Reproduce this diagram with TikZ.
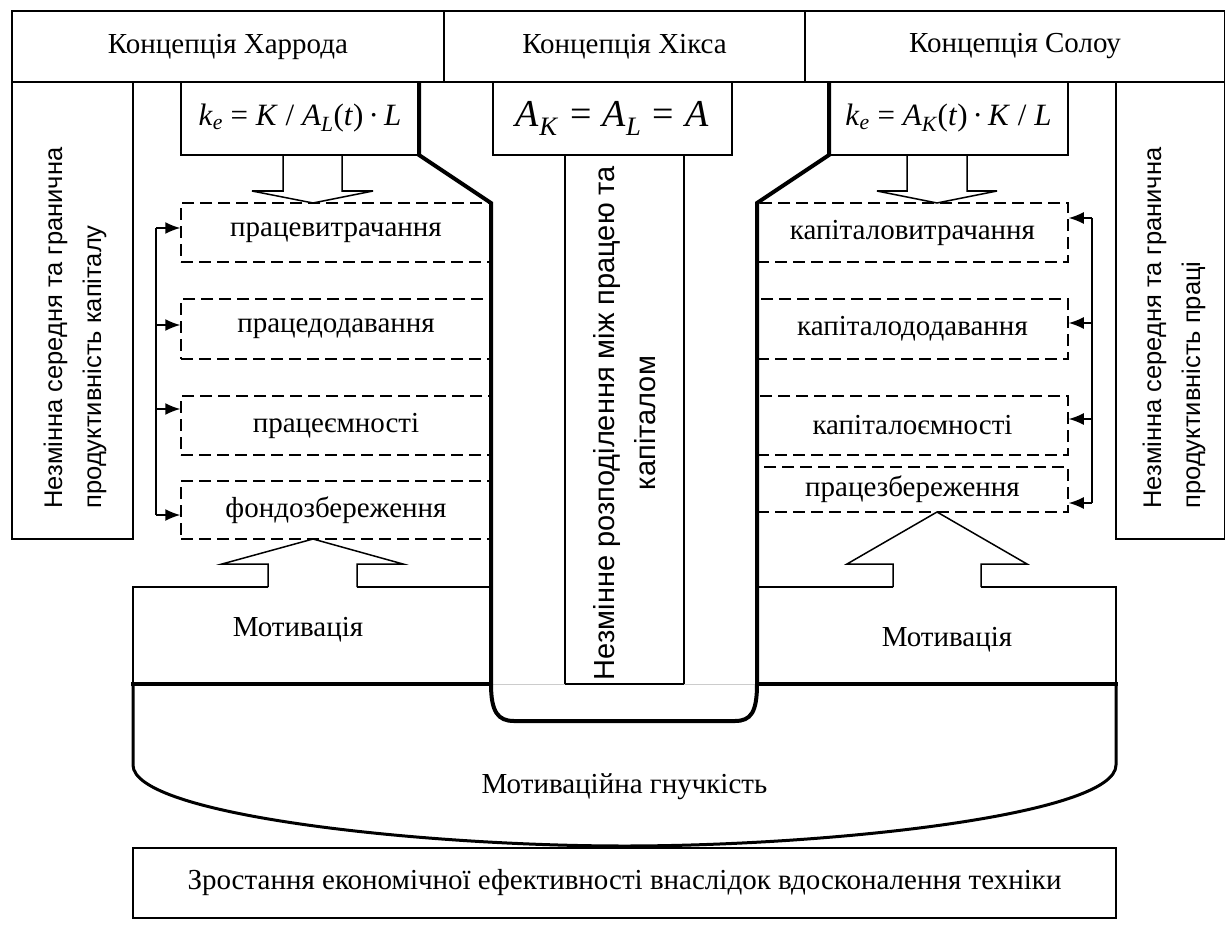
\documentclass[tikz,border=0pt]{standalone}
\usepackage{fontspec}
\setmainfont{Liberation Serif}
\newfontfamily\arialf{Liberation Sans}
\usetikzlibrary{arrows.meta}
\newcommand\tnr{\fontsize{29}{34}\selectfont}
\tikzset{
  lw/.style={line width=1.5pt},
  thickln/.style={line width=4pt},
  box/.style={draw, rectangle, line width=1.5pt, inner sep=0pt, font=\tnr},
  dbox/.style={draw, rectangle, line width=1.5pt, dash pattern=on 12pt off 6pt, inner sep=0pt, font=\tnr},
  lbl/.style={inner sep=0pt, font=\tnr},
  vtext/.style={rotate=90, inner sep=0pt, font=\arialf\fontsize{25.5}{39}\selectfont},
  arr/.style={line width=1.5pt, -{Latex[length=15pt,width=12pt]}},
}
\begin{document}
\begin{tikzpicture}[x=1pt,y=-1pt]
\useasboundingbox (0,0) rectangle (1225,944);
% header
\node[box, minimum width=432pt, minimum height=71pt] (h1) at (228,46.5) {Концепція Харрода};
\node[box, minimum width=361pt, minimum height=71pt] (h2) at (624.5,46.5) {Концепція Хікса};
\node[box, minimum width=420pt, minimum height=71pt] (h3) at (1015,46.5) {Концепція Солоу};
% side boxes
\node[box, minimum width=121pt, minimum height=457pt] (lbox) at (72.5,310.5) {};
\node[box, minimum width=109pt, minimum height=457pt] (rbox) at (1170.5,310.5) {};
\node[vtext, align=left] (lt) at (75,328) {Незмінна середня та гранична\\продуктивність капіталу};
\node[vtext, align=left] (rt) at (1174,328) {Незмінна середня та гранична\\продуктивність праці};
% formula boxes
\node[box, minimum width=238pt, minimum height=73pt, font=\fontsize{31}{36}\selectfont] (f1) at (300,118.5)
  {\textit{k}\textsubscript{\textit{e}} = \textit{K} / \textit{A}\textsubscript{\textit{L}}(\textit{t})\,·\,\textit{L}};
\node[box, minimum width=239pt, minimum height=73pt, font=\fontsize{38}{44}\selectfont] (f2) at (612.5,118.5)
  {\textit{A}\textsubscript{\textit{K}}\hspace{0.3em}=\hspace{0.3em}\textit{A}\textsubscript{\textit{L}}\hspace{0.3em}=\hspace{0.3em}\textit{A}};
\node[box, minimum width=239pt, minimum height=73pt, font=\fontsize{31}{36}\selectfont] (f3) at (948.5,118.5)
  {\textit{k}\textsubscript{\textit{e}} = \textit{A}\textsubscript{\textit{K}}(\textit{t})\,·\,\textit{K} / \textit{L}};
% middle column
\node[box, minimum width=119pt, minimum height=529pt] (col) at (624.5,419.5) {};
\node[vtext, align=center, font=\arialf\fontsize{29}{41}\selectfont] (ct) at (624.5,423) {Незмінне розподілення між працею та\\капіталом};
% dashed boxes left
\node[dbox, minimum width=310pt, minimum height=59pt] (d1) at (336,232.5) {працевитрачання};
\node[dbox, minimum width=310pt, minimum height=60pt] (d2) at (336,329) {працедодавання};
\node[dbox, minimum width=310pt, minimum height=59pt] (d3) at (336,425.5) {працеємності};
\node[dbox, minimum width=310pt, minimum height=58pt] (d4) at (336,510) {фондозбереження};
% dashed boxes right
\node[dbox, minimum width=311pt, minimum height=59pt] (e1) at (912.5,232.5) {капіталовитрачання};
\node[dbox, minimum width=311pt, minimum height=60pt] (e2) at (912.5,329) {капіталододавання};
\node[dbox, minimum width=311pt, minimum height=59pt] (e3) at (912.5,425.5) {капіталоємності};
\node[dbox, minimum width=311pt, minimum height=45pt] (e4) at (912.5,489.5) {працезбереження};
% thick outlines
\draw[thickln, line join=miter] (419,82) -- (419,155) -- (491,203) -- (491,684);
\draw[thickln, line join=miter] (829,82) -- (829,155) -- (757,203) -- (757,684);
% block arrows down
\draw[lw] (283,155) -- (283,191) -- (252,191) -- (313,203) -- (373,191) -- (342,191) -- (342,155);
\draw[lw] (907,155) -- (907,191) -- (877,191) -- (937,203) -- (997,191) -- (967,191) -- (967,155);
% block arrows up
\draw[lw] (268,587) -- (268,564) -- (222,564) -- (313,539) -- (403,564) -- (357,564) -- (357,587);
\draw[lw] (893,587) -- (893,564) -- (847,564) -- (937,512) -- (1027,564) -- (981,564) -- (981,587);
% motivation boxes
\draw[lw] (268,587) -- (133,587) -- (133,684);
\draw[lw] (357,587) -- (491,587);
\draw[lw] (757,587) -- (893,587);
\draw[lw] (981,587) -- (1116,587) -- (1116,684);
\node[lbl] (m1) at (298,630) {Мотивація};
\node[lbl] (m2) at (947,640) {Мотивація};
% brackets left
\coordinate (lb1) at (156,228);
\coordinate (lb2) at (156,325);
\coordinate (lb3) at (156,409);
\coordinate (lb4) at (156,515);
\draw[lw] (lb1) -- (lb4);
\draw[arr] (lb1) -- (lb1 -| d1.west);
\draw[arr] (lb2) -- (lb2 -| d2.west);
\draw[arr] (lb3) -- (lb3 -| d3.west);
\draw[arr] (lb4) -- (lb4 -| d4.west);
% brackets right
\coordinate (rb1) at (1092,218);
\coordinate (rb2) at (1092,323);
\coordinate (rb3) at (1092,419);
\coordinate (rb4) at (1092,503);
\draw[lw] (rb1) -- (rb4);
\draw[arr] (rb1) -- (rb1 -| e1.east);
\draw[arr] (rb2) -- (rb2 -| e2.east);
\draw[arr] (rb3) -- (rb3 -| e3.east);
\draw[arr] (rb4) -- (rb4 -| e4.east);
% bottom lines
\draw[line width=3.5pt] (131,684) -- (493,684);
\draw[line width=3.5pt] (755,684) -- (1118,684);
\draw[line width=1pt, gray!40] (493,684) -- (755,684);
\draw[line width=2pt] (565,684) -- (684,684);
% cup
\draw[thickln] (491,684) .. controls (491,712) and (498,721) .. (514,721) -- (735,721) .. controls (751,721) and (757,712) .. (757,684);
% big curve
\draw[line width=3pt] (133,684) -- (133,765) .. controls (133,815) and (420,846) .. (624.5,846) .. controls (829,846) and (1116,815) .. (1116,765) -- (1116,684);
\node[lbl] (mg) at (624.5,787) {Мотиваційна гнучкість};
% bottom box
\node[box, minimum width=983pt, minimum height=70pt] (bb) at (624.5,883) {Зростання економічної ефективності внаслідок вдосконалення техніки};
\end{tikzpicture}
\end{document}
